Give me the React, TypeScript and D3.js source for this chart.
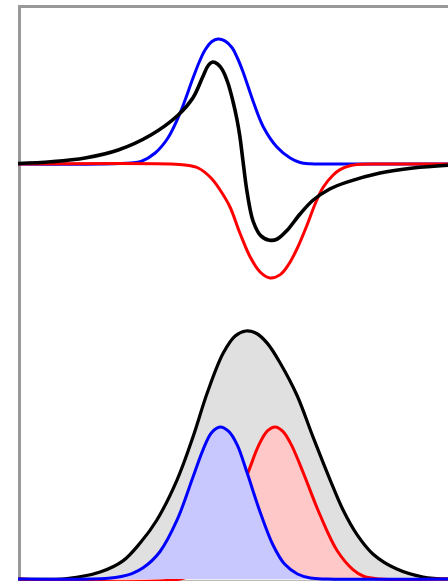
import React from 'react';
import * as d3 from 'd3';

type Pt = [number, number];

// upper panel: derivative-like signals (x in channel units 0..100)
const topBlue: Pt[] = [
  [0, 0], [19.1, 0], [26.3, 0.008], [28.6, 0.02], [31.9, 0.088], [34.9, 0.21],
  [37.7, 0.408], [40.7, 0.688], [42.2, 0.82], [43.5, 0.912], [45.1, 0.98], [46.5, 1.0],
  [48.1, 0.985], [49.8, 0.93], [51.0, 0.85], [52.3, 0.74], [54.7, 0.5], [57.0, 0.3],
  [60.2, 0.136], [63.3, 0.048], [65.6, 0.012], [68.0, 0.002], [72.0, 0], [100, 0],
];
const topRed: Pt[] = [
  [0, 0], [35.3, 0], [38.8, -0.008], [41.9, -0.032], [44.9, -0.112], [47.0, -0.208],
  [49.3, -0.344], [51.6, -0.552], [54.0, -0.744], [56.3, -0.864], [58.6, -0.912],
  [61.0, -0.885], [63.0, -0.8], [65.0, -0.67], [67.2, -0.49], [69.1, -0.32],
  [70.9, -0.19], [73.3, -0.088], [74.9, -0.045], [77.2, -0.014], [80.0, -0.002], [84.0, 0], [100, 0],
];
const topBlack: Pt[] = [
  [0, 0.004], [7.7, 0.018], [15.6, 0.048], [23.3, 0.112], [30.9, 0.232], [37.2, 0.39],
  [40.7, 0.53], [43.0, 0.7], [44.2, 0.786], [45.3, 0.816], [46.4, 0.8],
  [47.5, 0.755], [48.8, 0.65], [50.0, 0.5], [50.9, 0.36], [51.6, 0.22],
  [52.3, 0.03], [53.3, -0.23], [54.7, -0.46], [56.5, -0.575], [58.5, -0.61],
  [60.3, -0.6], [62.6, -0.53], [65.6, -0.4], [68.6, -0.29], [72.5, -0.2], [76.5, -0.145],
  [84.2, -0.072], [91.9, -0.032], [100, -0.01],
];

// lower panel: peaks
const botTotal: Pt[] = [
  [0, 0], [11.4, 0.002], [19.1, 0.028], [24.4, 0.073], [28.4, 0.145], [32.3, 0.238],
  [37.0, 0.4], [40.7, 0.573], [44.0, 0.75], [47.7, 0.91], [50.5, 0.98], [53.0, 1.0],
  [55.5, 0.99], [58.0, 0.95], [61.0, 0.87], [64.9, 0.74], [68.6, 0.573], [72.6, 0.399],
  [75.6, 0.278], [78.8, 0.18], [82.6, 0.1], [88.1, 0.04], [94.2, 0.008], [100, 0],
];
const botBlue: Pt[] = [
  [0, 0], [17.0, 0], [21.0, 0.003], [24.0, 0.01], [26.5, 0.022], [29.1, 0.045], [33.0, 0.11],
  [37.0, 0.238], [40.7, 0.411], [43.0, 0.52], [45.0, 0.59], [47.0, 0.613],
  [49.0, 0.595], [51.0, 0.54], [53.3, 0.427], [56.3, 0.27], [59.3, 0.137],
  [62.0, 0.06], [65.0, 0.02], [68.0, 0.004], [72.0, 0], [100, 0],
];
const botRed: Pt[] = [
  [0, 0], [37.7, 0], [42.3, 0.036], [45.8, 0.117], [49.3, 0.258], [53.5, 0.43],
  [56.0, 0.54], [58.0, 0.597], [59.8, 0.613], [61.6, 0.595], [63.6, 0.54],
  [66.3, 0.43], [70.2, 0.26], [74.2, 0.115], [77.9, 0.038], [80.5, 0.01], [84.0, 0], [100, 0],
];

const W = 448;
const H = 581;

const App = () => {
  const x = d3.scaleLinear().domain([0, 100]).range([18, 448]);
  const yTop = d3.scaleLinear().domain([-1, 1]).range([289, 39]);
  const yBot = d3.scaleLinear().domain([0, 1]).range([579, 331]);

  const curve = d3.curveCatmullRom.alpha(0.5);
  const lineTop = d3.line<Pt>().x(d => x(d[0])).y(d => yTop(d[1])).curve(curve);
  const lineBot = d3.line<Pt>().x(d => x(d[0])).y(d => yBot(d[1])).curve(curve);
  const areaBot = d3.area<Pt>()
    .x(d => x(d[0]))
    .y0(yBot(0))
    .y1(d => yBot(d[1]))
    .curve(curve);

  return (
    <svg
      width={W}
      height={H}
      style={{ position: 'absolute', left: 0, top: 0, background: '#fff' }}
    >
      {/* frame */}
      <rect x={19.5} y={6.5} width={500} height={620} fill="#fff" stroke="#999" strokeWidth={3} />
      <line x1={18} x2={W} y1={580.5} y2={580.5} stroke="#bbb" strokeWidth={1.5} />

      {/* bottom panel */}
      <path d={areaBot(botTotal) || ''} fill="#e0e0e0" />
      <path d={lineBot(botTotal) || ''} fill="none" stroke="#000" strokeWidth={3.2} />
      <path d={areaBot(botRed) || ''} fill="#ffc8c8" />
      <path d={lineBot(botRed) || ''} fill="none" stroke="#ff0000" strokeWidth={3} />
      <path d={areaBot(botBlue) || ''} fill="#c8c8ff" />
      <path d={lineBot(botBlue) || ''} fill="none" stroke="#0000ff" strokeWidth={3} />

      {/* top panel */}
      <path d={lineTop(topBlue) || ''} fill="none" stroke="#0000ff" strokeWidth={3} />
      <path d={lineTop(topRed) || ''} fill="none" stroke="#ff0000" strokeWidth={3} />
      <path d={lineTop(topBlack) || ''} fill="none" stroke="#000" strokeWidth={3.6} />
    </svg>
  );
};

export default App;
